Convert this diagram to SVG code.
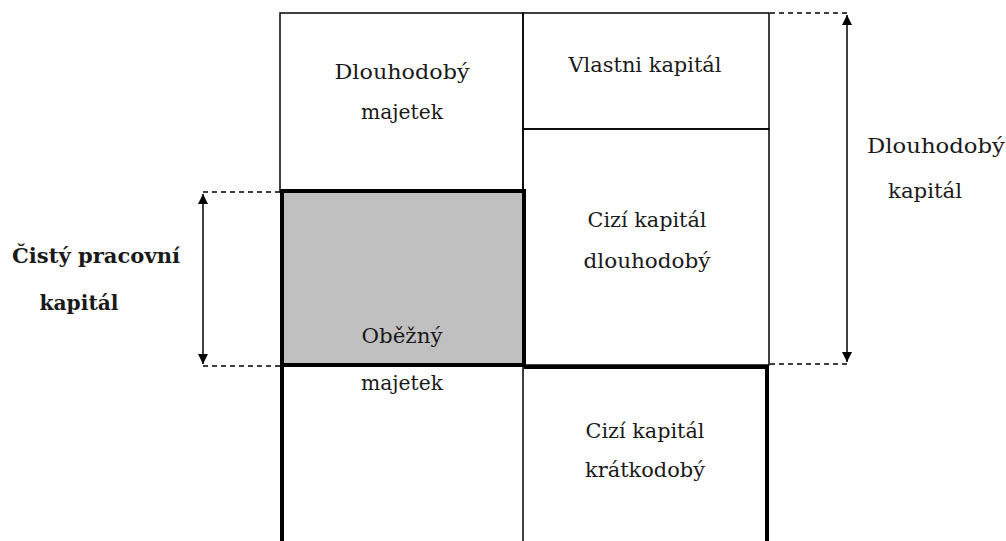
<svg xmlns="http://www.w3.org/2000/svg" width="1006" height="541" viewBox="0 0 1006 541">
<style>
.thin{fill:none;stroke:#000;stroke-width:1.5}
.thick{fill:none;stroke:#000;stroke-width:4}
.dash{fill:none;stroke:#000;stroke-width:1.3;stroke-dasharray:5 4}
.arr{fill:none;stroke:#000;stroke-width:1.5;marker-start:url(#ah);marker-end:url(#ah)}
text{font-family:"DejaVu Serif","Liberation Serif","Times New Roman",serif;font-size:21px;fill:#1a1a1a;text-anchor:middle}
.b{font-weight:bold;font-size:20px}
</style>
<defs>
<marker id="ah" viewBox="0 0 10 10" refX="10" refY="5" markerWidth="10" markerHeight="10" markerUnits="userSpaceOnUse" orient="auto-start-reverse">
<path d="M0,0 L10,5 L0,10 Z" fill="#000"/>
</marker>
</defs>
<rect width="1006" height="541" fill="#fff"/>
<g id="dlouhodoby-majetek">
<rect class="thin" x="280" y="13" width="243" height="178"/>
<text x="402" y="79" textLength="135" lengthAdjust="spacingAndGlyphs">Dlouhodobý</text>
<text x="402" y="119" textLength="82" lengthAdjust="spacingAndGlyphs">majetek</text>
</g>
<g id="vlastni-kapital">
<rect class="thin" x="523" y="13" width="246" height="116"/>
<text x="645" y="72" textLength="153" lengthAdjust="spacingAndGlyphs">Vlastni kapitál</text>
</g>
<g id="cizi-dlouhodoby">
<rect class="thin" x="523" y="129" width="246" height="236"/>
<text x="647" y="227" textLength="119" lengthAdjust="spacingAndGlyphs">Cizí kapitál</text>
<text x="647" y="268" textLength="127" lengthAdjust="spacingAndGlyphs">dlouhodobý</text>
</g>
<g id="obezny-majetek">
<rect x="282" y="191" width="242" height="174" fill="#c0c0c0" stroke="#000" stroke-width="4"/>
<path class="thin" d="M523 365 V541"/>
<path class="thick" d="M282 191 V541"/>
<text x="402" y="343" textLength="81" lengthAdjust="spacingAndGlyphs">Oběžný</text>
<text x="402" y="390" textLength="82" lengthAdjust="spacingAndGlyphs">majetek</text>
</g>
<g id="cizi-kratkodoby">
<path class="thick" d="M524 367 H767 V541"/>
<text x="645" y="438" textLength="119" lengthAdjust="spacingAndGlyphs">Cizí kapitál</text>
<text x="645" y="477" textLength="120" lengthAdjust="spacingAndGlyphs">krátkodobý</text>
</g>
<g id="connectors">
<path class="dash" d="M770 13 H848"/>
<path class="dash" d="M770 364 H848"/>
<path class="arr" d="M847 15 V362"/>
<path class="dash" d="M203 192 H280"/>
<path class="dash" d="M203 366 H280"/>
<path class="arr" d="M203 194 V364"/>
</g>
<g id="cisty-pracovni-kapital">
<text class="b" x="96" y="263" textLength="168" lengthAdjust="spacingAndGlyphs">Čistý pracovní</text>
<text class="b" x="79" y="310" textLength="79" lengthAdjust="spacingAndGlyphs">kapitál</text>
</g>
<g id="dlouhodoby-kapital">
<text x="936" y="153" textLength="138" lengthAdjust="spacingAndGlyphs">Dlouhodobý</text>
<text x="925" y="198" textLength="74" lengthAdjust="spacingAndGlyphs">kapitál</text>
</g>
</svg>
